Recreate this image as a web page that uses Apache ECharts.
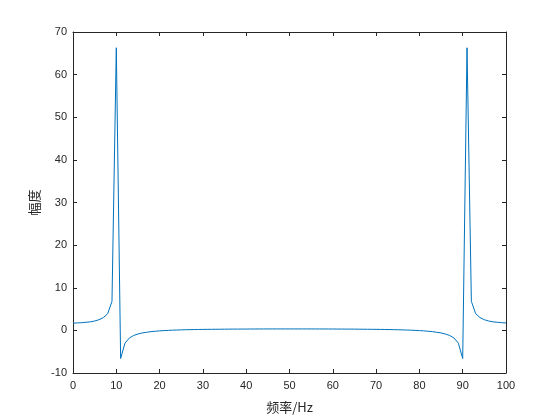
<!DOCTYPE html>
<html>
<head>
<meta charset="utf-8">
<script src="https://cdn.jsdelivr.net/npm/echarts@6/dist/echarts.min.js"></script>
<style>html,body{margin:0;padding:0;background:#fff}#c{width:560px;height:420px}</style>
</head>
<body>
<div id="c"></div>
<script>
// frequency bins (Hz)
var freq = [];
for (var i = 0; i <= 100; i++) freq.push(i);
// amplitude values
var amp = [
  1.7, 1.75, 1.8, 1.9, 2.0, 2.2, 2.5, 3.0, 3.9, 6.8,
  66.3, -6.6, -3.0, -1.8, -1.2, -0.85, -0.6, -0.45, -0.3, -0.2,
  -0.12, -0.05, 0.0, 0.05, 0.08, 0.12, 0.15, 0.17, 0.19, 0.21,
  0.23, 0.24, 0.25, 0.26, 0.27, 0.28, 0.29, 0.3, 0.3, 0.31,
  0.31, 0.32, 0.32, 0.33, 0.33, 0.33, 0.34, 0.34, 0.34, 0.34,
  0.34, 0.34, 0.34, 0.34, 0.34, 0.34, 0.33, 0.33, 0.33, 0.32,
  0.32, 0.31, 0.31, 0.3, 0.3, 0.29, 0.28, 0.27, 0.26, 0.25,
  0.24, 0.23, 0.21, 0.19, 0.17, 0.15, 0.12, 0.08, 0.05, 0.0,
  -0.05, -0.12, -0.2, -0.3, -0.45, -0.6, -0.85, -1.2, -1.8, -3.0,
  -6.6, 66.3, 6.8, 3.9, 3.0, 2.5, 2.2, 2.0, 1.9, 1.8,
  1.75
];
var xTicks = [0,10,20,30,40,50,60,70,80,90,100];
var yTicks = [-10,0,10,20,30,40,50,60,70];

var pts = freq.map(function (f, i) { return [f, amp[i]]; });
var axisColor = '#262626';
var font = 'Liberation Sans, Arial, sans-serif';

var chart = echarts.init(document.getElementById('c'), null, {renderer: 'canvas'});
chart.setOption({
  animation: false,
  backgroundColor: '#fff',
  grid: {left: 73, right: 54, top: 32, bottom: 47, containLabel: false},
  xAxis: [{
    type: 'value', min: xTicks[0], max: xTicks[xTicks.length - 1], interval: 10,
    name: '频率/Hz', nameLocation: 'middle', nameGap: 28,
    nameTextStyle: {color: axisColor, fontSize: 13, fontFamily: 'Noto Sans CJK SC, ' + font},
    axisLine: {onZero: false, lineStyle: {color: axisColor, width: 1}},
    axisTick: {inside: true, length: 4, lineStyle: {color: axisColor}},
    axisLabel: {color: axisColor, fontSize: 11, fontFamily: font, margin: 7},
    splitLine: {show: false}
  }, {
    type: 'value', position: 'top', min: 0, max: 100, interval: 10,
    axisLine: {onZero: false, lineStyle: {color: axisColor, width: 1}},
    axisTick: {inside: true, length: 4, lineStyle: {color: axisColor}},
    axisLabel: {show: false}, splitLine: {show: false}
  }],
  yAxis: [{
    type: 'value', min: yTicks[0], max: yTicks[yTicks.length - 1], interval: 10,
    name: '幅度', nameLocation: 'middle', nameGap: 30, nameRotate: 90,
    nameTextStyle: {color: axisColor, fontSize: 13, fontFamily: 'Noto Sans CJK SC, ' + font},
    axisLine: {onZero: false, lineStyle: {color: axisColor, width: 1}},
    axisTick: {inside: true, length: 4, lineStyle: {color: axisColor}},
    axisLabel: {color: axisColor, fontSize: 11, fontFamily: font, margin: 6},
    splitLine: {show: false}
  }, {
    type: 'value', position: 'right', min: -10, max: 70, interval: 10,
    axisLine: {onZero: false, lineStyle: {color: axisColor, width: 1}},
    axisTick: {inside: true, length: 4, lineStyle: {color: axisColor}},
    axisLabel: {show: false}, splitLine: {show: false}
  }],
  series: [{
    type: 'line', data: pts, xAxisIndex: 0, yAxisIndex: 0,
    showSymbol: false, symbol: 'none', smooth: false,
    lineStyle: {color: '#0072BD', width: 1},
    clip: true
  }]
});
</script>
</body>
</html>
